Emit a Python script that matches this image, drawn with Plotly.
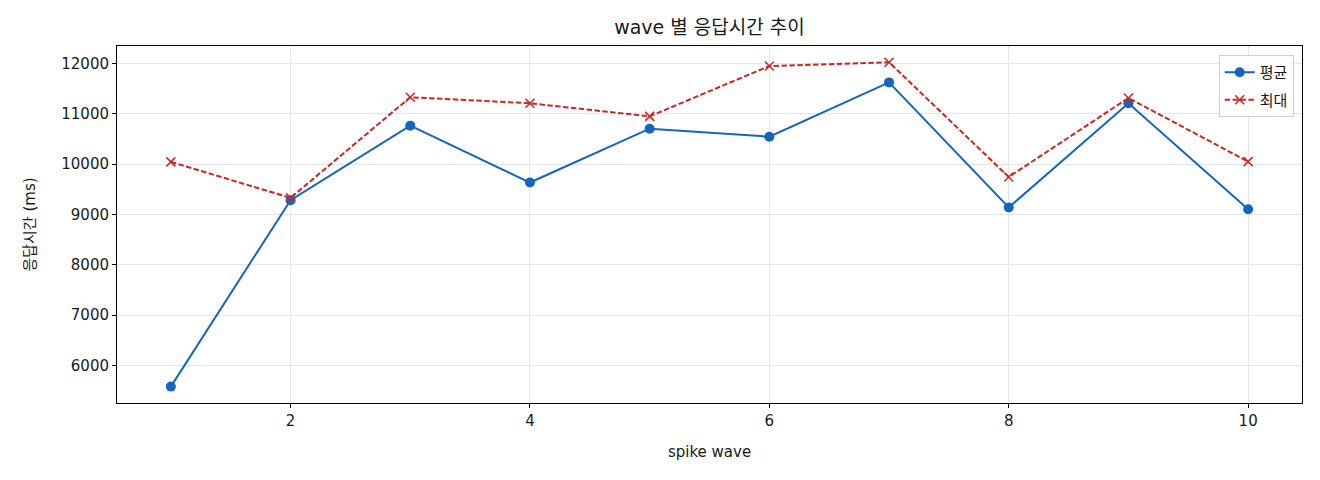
import plotly.graph_objects as go

waves = [1, 2, 3, 4, 5, 6, 7, 8, 9, 10]
avg_ms = [5580, 9285, 10765, 9635, 10705, 10545, 11625, 9140, 11210, 9105]
max_ms = [10045, 9330, 11330, 11210, 10950, 11950, 12025, 9745, 11315, 10050]
x_ticks = [2, 4, 6, 8, 10]
y_ticks = [6000, 7000, 8000, 9000, 10000, 11000, 12000]

BLUE = "#1565C0"
RED = "#C62828"
FONT = "DejaVu Sans, Noto Sans CJK KR, sans-serif"
TXT = "#1a1a1a"

fig = go.Figure()
fig.add_trace(go.Scatter(
    x=waves, y=avg_ms, name="평균", mode="lines+markers", legendgroup="a",
    line=dict(color=BLUE, width=2),
    marker=dict(symbol="circle", size=10, color=BLUE),
))
fig.add_trace(go.Scatter(
    x=waves, y=max_ms, name="최대", mode="lines+markers", legendgroup="b",
    line=dict(color=RED, width=2, dash="5.5px,2.4px"),
    marker=dict(symbol="x-thin", size=9, color=RED, line=dict(width=1.5, color=RED)),
))

axis_common = dict(
    showline=True, linecolor="black", linewidth=1, mirror=True,
    ticks="outside", ticklen=4, tickcolor="black", tickwidth=1,
    showgrid=True, gridcolor="#e6e6e6", gridwidth=1, zeroline=False,
    tickfont=dict(family=FONT, size=15, color=TXT),
)

fig.update_layout(
    width=1312, height=472,
    margin=dict(l=109, r=18, t=38, b=77),
    paper_bgcolor="white", plot_bgcolor="white",
    font=dict(family=FONT, size=14, color=TXT),
    title=dict(text="wave 별 응답시간 추이", x=0.5, xref="paper", xanchor="center",
               y=0.958, yref="container", yanchor="middle",
               font=dict(family=FONT, size=19, color=TXT)),
    xaxis=dict(range=[0.55, 10.45], tickvals=x_ticks,
               title=dict(text="spike wave", font=dict(family=FONT, size=15, color=TXT), standoff=17),
               **axis_common),
    yaxis=dict(range=[5254, 12348], tickvals=y_ticks, tickformat="d",
               title=dict(text="응답시간 (ms)", font=dict(family=FONT, size=15, color=TXT), standoff=22),
               **axis_common),
    legend=dict(x=0.993, y=0.975, xanchor="right", yanchor="top",
                bgcolor="rgba(255,255,255,0.8)", bordercolor="#d0d0d0", borderwidth=1,
                font=dict(family=FONT, size=15, color=TXT), itemwidth=30, tracegroupgap=5),
    showlegend=True,
)

fig.write_html("out.html")
